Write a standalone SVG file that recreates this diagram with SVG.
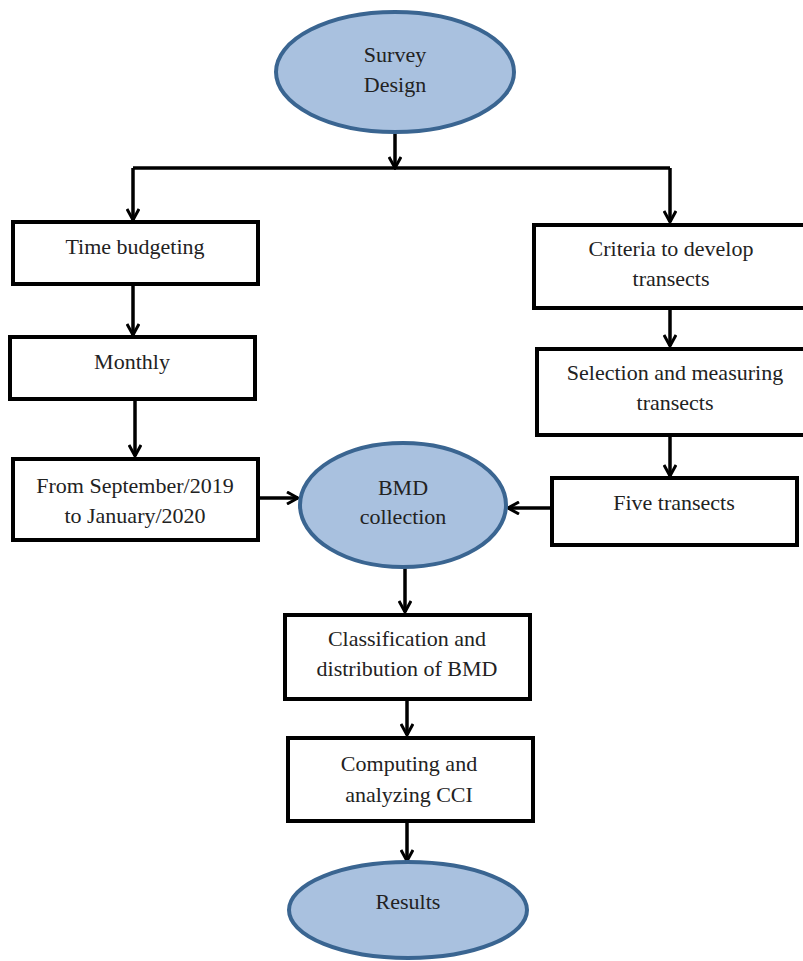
<svg xmlns="http://www.w3.org/2000/svg" width="803" height="961" viewBox="0 0 803 961">
<defs>
<style>
.box{fill:#fff;stroke:#000;stroke-width:4}
.ell{fill:#a9c1df;stroke:#3a6591;stroke-width:4}
.t{font-family:"Liberation Serif","Times New Roman",serif;font-size:22px;fill:#222;text-anchor:middle}
.c{fill:none;stroke:#000;stroke-width:3.5}
</style>
<marker id="ah" viewBox="0 0 14 14" refX="12" refY="7" markerWidth="14" markerHeight="14" markerUnits="userSpaceOnUse" orient="auto">
<path d="M1,1 L12,7 L1,13" fill="none" stroke="#000" stroke-width="3"/>
</marker>
</defs>
<rect width="803" height="961" fill="#fff"/>
<g id="connectors">
<line class="c" x1="395" y1="133" x2="395" y2="168" marker-end="url(#ah)"/>
<polyline class="c" points="133,168 670,168"/>
<line class="c" x1="133" y1="168" x2="133" y2="220" marker-end="url(#ah)"/>
<line class="c" x1="670" y1="168" x2="670" y2="222" marker-end="url(#ah)"/>
<line class="c" x1="133" y1="285" x2="133" y2="335" marker-end="url(#ah)"/>
<line class="c" x1="135" y1="400" x2="135" y2="456" marker-end="url(#ah)"/>
<line class="c" x1="670" y1="309" x2="670" y2="346" marker-end="url(#ah)"/>
<line class="c" x1="670" y1="435" x2="670" y2="476" marker-end="url(#ah)"/>
<line class="c" x1="258" y1="498" x2="298" y2="498" marker-end="url(#ah)"/>
<line class="c" x1="552" y1="508" x2="508" y2="508" marker-end="url(#ah)"/>
<line class="c" x1="405" y1="567" x2="405" y2="612" marker-end="url(#ah)"/>
<line class="c" x1="407" y1="699" x2="407" y2="735" marker-end="url(#ah)"/>
<line class="c" x1="407" y1="821" x2="407" y2="861" marker-end="url(#ah)"/>
</g>
<g id="survey-design">
<ellipse class="ell" cx="395" cy="72" rx="119" ry="60"/>
<text class="t" x="395" y="62">Survey</text>
<text class="t" x="395" y="92">Design</text>
</g>
<g id="time-budgeting">
<rect class="box" x="13" y="222" width="245" height="62"/>
<text class="t" x="135" y="254">Time budgeting</text>
</g>
<g id="monthly">
<rect class="box" x="10" y="337" width="245" height="62"/>
<text class="t" x="132" y="369">Monthly</text>
</g>
<g id="from-september">
<rect class="box" x="13" y="459" width="245" height="81"/>
<text class="t" x="135" y="493">From September/2019</text>
<text class="t" x="135" y="523">to January/2020</text>
</g>
<g id="criteria">
<rect class="box" x="534" y="225" width="275" height="83"/>
<text class="t" x="671" y="256">Criteria to develop</text>
<text class="t" x="671" y="286">transects</text>
</g>
<g id="selection">
<rect class="box" x="537" y="349" width="272" height="86"/>
<text class="t" x="675" y="380">Selection and measuring</text>
<text class="t" x="675" y="410">transects</text>
</g>
<g id="five-transects">
<rect class="box" x="552" y="478" width="245" height="67"/>
<text class="t" x="674" y="510">Five transects</text>
</g>
<g id="bmd-collection">
<ellipse class="ell" cx="403" cy="505" rx="103" ry="62"/>
<text class="t" x="403" y="495">BMD</text>
<text class="t" x="403" y="524">collection</text>
</g>
<g id="classification">
<rect class="box" x="285" y="615" width="245" height="84"/>
<text class="t" x="407" y="646">Classification and</text>
<text class="t" x="407" y="676">distribution of BMD</text>
</g>
<g id="computing">
<rect class="box" x="288" y="738" width="245" height="83"/>
<text class="t" x="409" y="771">Computing and</text>
<text class="t" x="409" y="802">analyzing CCI</text>
</g>
<g id="results">
<ellipse class="ell" cx="408" cy="910" rx="119" ry="48"/>
<text class="t" x="408" y="909">Results</text>
</g>
</svg>
